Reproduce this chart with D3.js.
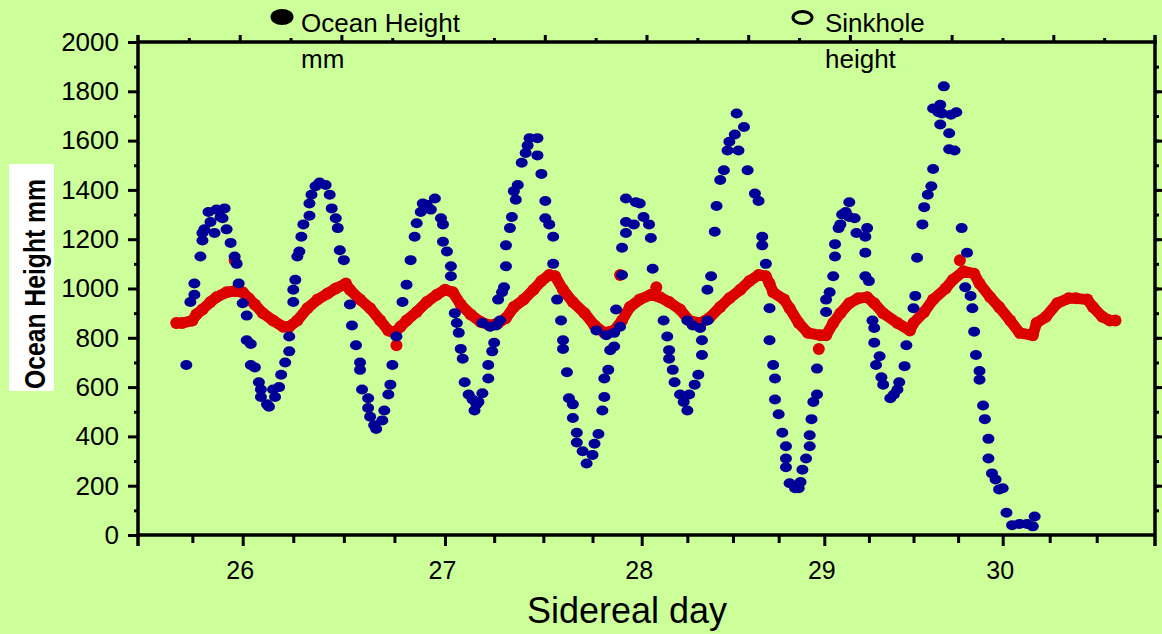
<!DOCTYPE html>
<html>
<head>
<meta charset="utf-8">
<script src="https://cdn.jsdelivr.net/npm/d3@7"></script>
<style>
  html, body { margin: 0; padding: 0; background: #ccff99; }
  svg { display: block; }
  text { font-family: "Liberation Sans", Arial, sans-serif; fill: #000; }
</style>
</head>
<body>
<div id="chart"></div>
<script>
// ocean height (blue dots)
var oceanDay = [25.72,25.74,25.76,25.76,25.79,25.80,25.80,25.81,25.83,25.84,25.86,25.87,25.89,25.90,25.91,25.92,25.94,25.96,25.97,25.98,
  26.00,26.02,26.02,26.04,26.04,26.06,26.08,26.09,26.09,26.12,26.13,26.15,26.16,26.18,26.19,26.21,26.23,26.23,26.25,26.25,
  26.26,26.27,26.28,26.29,26.30,26.33,26.33,26.34,26.36,26.38,26.41,26.43,26.44,26.46,26.47,26.48,26.50,26.53,26.54,26.56,
  26.58,26.58,26.59,26.62,26.62,26.63,26.65,26.66,26.69,26.70,26.72,26.73,26.74,26.76,26.79,26.81,26.83,26.85,26.86,26.88,
  26.89,26.91,26.93,26.95,26.98,26.99,26.99,27.01,27.03,27.03,27.05,27.06,27.07,27.08,27.09,27.10,27.12,27.14,27.15,27.16,
  27.17,27.19,27.19,27.22,27.22,27.23,27.24,27.25,27.26,27.27,27.28,27.29,27.30,27.31,27.31,27.33,27.34,27.35,27.36,27.37,
  27.39,27.41,27.42,27.43,27.47,27.47,27.49,27.51,27.51,27.53,27.55,27.55,27.57,27.59,27.60,27.60,27.62,27.63,27.65,27.65,
  27.67,27.67,27.70,27.72,27.75,27.76,27.77,27.78,27.80,27.81,27.81,27.82,27.83,27.84,27.86,27.86,27.87,27.89,27.90,27.90,
  27.92,27.92,27.92,27.96,27.97,27.99,28.01,28.04,28.05,28.06,28.12,28.14,28.15,28.15,28.17,28.18,28.21,28.23,28.25,28.25,
  28.26,28.28,28.29,28.31,28.32,28.33,28.33,28.36,28.36,28.38,28.40,28.41,28.43,28.45,28.47,28.48,28.51,28.52,28.53,28.56,
  28.58,28.62,28.64,28.66,28.66,28.68,28.70,28.70,28.72,28.73,28.73,28.75,28.77,28.79,28.79,28.79,28.81,28.84,28.86,28.87,
  28.88,28.90,28.92,28.92,28.93,28.94,28.96,28.96,29.01,29.01,29.03,29.05,29.06,29.06,29.08,29.09,29.10,29.12,29.14,29.14,
  29.17,29.18,29.23,29.23,29.23,29.24,29.25,29.27,29.28,29.28,29.29,29.31,29.32,29.33,29.37,29.39,29.41,29.42,29.45,29.46,
  29.50,29.51,29.52,29.55,29.56,29.58,29.60,29.61,29.61,29.64,29.65,29.65,29.66,29.67,29.70,29.70,29.71,29.73,29.74,29.77,
  29.79,29.80,29.82,29.83,29.84,29.85,29.87,29.87,29.89,29.90,29.92,29.92,29.94,29.96,29.98,30.00,30.02,30.05,30.09,30.13,
  30.16,30.17];
var oceanMm = [690,945,975,1020,1130,1225,1195,1240,1310,1270,1225,1320,1290,1285,1325,1240,1185,1130,1100,1020,
  940,890,790,775,690,680,620,590,560,530,520,590,560,600,650,700,745,805,945,995,
  1035,1130,1150,1210,1260,1295,1345,1380,1415,1430,1420,1380,1325,1285,1245,1155,1115,935,850,770,
  700,670,590,555,515,480,445,430,465,505,570,610,690,805,945,1015,1115,1210,1265,1310,
  1345,1340,1320,1365,1285,1260,1190,1150,1090,1050,900,860,820,755,715,620,570,550,505,530,
  540,575,860,635,690,845,745,780,850,955,870,985,1005,1090,1175,1245,1290,1395,1360,1420,
  1510,1550,1580,1610,1610,1540,1465,1355,1285,1260,1210,1100,955,870,790,755,660,555,530,475,
  415,375,340,290,325,370,830,410,505,560,635,810,670,750,765,820,915,845,1055,1165,
  1225,1270,1365,1260,1350,1345,1290,1260,1205,1080,870,805,750,715,670,620,570,540,505,870,
  570,850,610,650,840,730,790,870,995,1050,1230,1335,1440,1480,1560,1595,1625,1710,1560,1655,
  1480,1385,1355,1210,1175,1100,920,790,690,635,550,490,415,360,310,275,210,190,190,215,
  265,310,360,405,470,540,570,675,905,955,985,1050,1130,1180,1245,1260,1300,1310,1290,1350,
  1285,1225,1210,1145,1050,1245,1030,870,840,780,690,725,640,610,555,570,590,620,685,770,
  920,970,1125,1260,1330,1380,1415,1485,1730,1715,1745,1665,1710,1820,1630,1565,1705,1560,1715,1245,
  1005,1145,970,920,825,730,665,630,525,470,390,310,250,225,185,190,90,40,45,45,
  35,75];

// sinkhole height (red band)
var sinkDay = [25.67,25.70,25.75,25.77,25.80,25.84,25.87,25.92,25.96,26.00,26.03,26.06,26.10,26.15,26.20,26.23,26.27,26.32,26.37,26.42,
  26.46,26.51,26.53,26.58,26.63,26.68,26.72,26.75,26.78,26.81,26.86,26.91,26.96,27.00,27.04,27.08,27.13,27.18,27.23,27.27,
  27.31,27.35,27.40,27.45,27.49,27.53,27.56,27.60,27.65,27.71,27.76,27.81,27.86,27.90,27.94,27.99,28.05,28.10,28.15,28.21,
  28.26,28.32,28.37,28.43,28.48,28.54,28.59,28.64,28.68,28.70,28.72,28.78,28.81,28.86,28.91,28.98,29.01,29.05,29.09,29.14,
  29.19,29.24,29.28,29.33,29.41,29.48,29.50,29.56,29.61,29.68,29.72,29.78,29.84,29.87,29.93,29.98,30.04,30.09,30.16,30.18,
  30.23,30.29,30.35,30.39,30.45,30.48,30.53,30.57,30.60];
var sinkMm = [860,860,870,895,915,945,965,985,990,985,960,935,900,870,845,845,870,920,955,980,
  1000,1020,995,955,920,870,830,820,845,870,905,945,975,995,985,935,895,865,850,860,
  880,925,955,995,1030,1055,1050,995,945,900,850,820,830,870,925,955,975,965,945,915,
  870,860,880,925,960,995,1030,1055,1050,1020,985,955,920,860,820,810,810,860,900,940,
  960,965,940,900,860,830,860,905,955,1000,1035,1070,1060,1020,965,925,870,820,810,860,
  885,940,960,960,955,925,885,870,870];
// stray sinkhole readings off the band
var sinkOddDay = [25.96,26.76,27.89,28.08,28.97,29.76];
var sinkOddMm = [1115,770,1055,1005,755,1115];

var yTicks = [0,200,400,600,800,1000,1200,1400,1600,1800,2000];
var xTicks = [26,27,28,29,30];

var width = 1162, height = 634;
var padL = 138, padR = 1155, padT = 42, padB = 535;

var svg = d3.select('#chart').append('svg')
  .attr('width', width)
  .attr('height', height);

svg.append('rect').attr('width', width).attr('height', height).attr('fill', '#ccff99');

// the day axis of the original is not evenly spaced, so piece it together
var x = d3.scaleLinear()
  .domain([25.48, 26, 27, 28, 29, 30, 30.81])
  .range([padL, 242.7, 445, 641.7, 824.3, 1002.7, padR]);
var y = d3.scaleLinear().domain([0, 2000]).range([padB, padT]);
var topScale = d3.scaleLinear().domain([0, 20]).range([padL, padR]);

function styleAxis(g) {
  g.select('.domain').remove();
  g.selectAll('line').attr('stroke', '#000').attr('stroke-width', 3);
  g.selectAll('text').style('font-size', '26px').attr('fill', '#000');
}

// red band first, blue dots over it
var band = d3.line().x(function (d, i) { return x(sinkDay[i]); }).y(function (d) { return y(d); });
svg.append('path')
  .attr('d', band(sinkMm))
  .attr('fill', 'none')
  .attr('stroke', '#dd0000')
  .attr('stroke-width', 11)
  .attr('stroke-linejoin', 'round')
  .attr('stroke-linecap', 'round');
svg.append('g').selectAll('circle')
  .data(sinkMm.concat(sinkOddMm))
  .enter().append('circle')
  .attr('cx', function (d, i) { return x(sinkDay.concat(sinkOddDay)[i]); })
  .attr('cy', function (d) { return y(d); })
  .attr('r', 6)
  .attr('fill', '#dd0000');

svg.append('g').selectAll('ellipse')
  .data(oceanMm)
  .enter().append('ellipse')
  .attr('cx', function (d, i) { return x(oceanDay[i]); })
  .attr('cy', function (d) { return y(d); })
  .attr('rx', 6)
  .attr('ry', 5)
  .attr('fill', '#000099');

// left axis
svg.append('g').attr('transform', 'translate(' + padL + ',0)')
  .call(d3.axisLeft(y).tickValues(yTicks).tickSize(10).tickPadding(9).tickFormat(d3.format('d')))
  .call(styleAxis);
svg.append('g').attr('transform', 'translate(' + padL + ',0)')
  .call(d3.axisLeft(y).tickValues(d3.range(100, 2000, 200)).tickSize(4).tickFormat(''))
  .call(styleAxis);

// right axis, ticks outward
svg.append('g').attr('transform', 'translate(' + padR + ',0)')
  .call(d3.axisRight(y).tickValues(d3.range(100, 2000, 100)).tickSize(4).tickFormat(''))
  .call(styleAxis);
svg.append('g').attr('transform', 'translate(' + padR + ',0)')
  .call(d3.axisRight(y).tickValues(d3.range(200, 2000, 200)).tickSize(7).tickFormat(''))
  .call(styleAxis);

// bottom axis
svg.append('g').attr('transform', 'translate(0,' + padB + ')')
  .call(d3.axisBottom(x).tickValues(xTicks).tickSize(11).tickPadding(15).tickFormat(d3.format('d')))
  .call(styleAxis)
  .selectAll('text').attr('dx', -3).style('font-size', '25px');
svg.append('g').attr('transform', 'translate(0,' + padB + ')')
  .call(d3.axisBottom(x).tickValues([25.75,26.25,26.5,26.75,27.25,27.5,27.75,28.25,28.5,28.75,29.25,29.5,29.75,30.25,30.5]).tickSize(8).tickFormat(''))
  .call(styleAxis);

// top axis, unlabeled
svg.append('g').attr('transform', 'translate(0,' + padT + ')')
  .call(d3.axisTop(topScale).tickValues(d3.range(1, 20, 2)).tickSize(4).tickFormat(''))
  .call(styleAxis);
svg.append('g').attr('transform', 'translate(0,' + padT + ')')
  .call(d3.axisTop(topScale).tickValues(d3.range(2, 20, 2)).tickSize(7).tickFormat(''))
  .call(styleAxis);

// frame
svg.append('line').attr('x1', padL).attr('x2', padR + 2).attr('y1', padT).attr('y2', padT).attr('stroke', '#000').attr('stroke-width', 3.5);
svg.append('line').attr('x1', padL - 1).attr('x2', padR + 1).attr('y1', padB).attr('y2', padB).attr('stroke', '#000').attr('stroke-width', 3.5);
svg.append('line').attr('x1', padL).attr('x2', padL).attr('y1', padT - 7).attr('y2', padB + 11).attr('stroke', '#000').attr('stroke-width', 3.5);
svg.append('line').attr('x1', padR).attr('x2', padR).attr('y1', padT - 7).attr('y2', padB + 11).attr('stroke', '#000').attr('stroke-width', 3.5);

// axis titles
svg.append('text')
  .attr('x', 627).attr('y', 623)
  .attr('text-anchor', 'middle')
  .style('font-size', '36px')
  .text('Sidereal day');

svg.append('rect').attr('x', 9).attr('y', 164).attr('width', 45).attr('height', 227).attr('fill', '#fff');
svg.append('text')
  .attr('transform', 'translate(45,284) rotate(-90)')
  .attr('text-anchor', 'middle')
  .attr('textLength', 210)
  .attr('lengthAdjust', 'spacingAndGlyphs')
  .style('font-size', '29px')
  .style('font-weight', 'bold')
  .text('Ocean Height mm');

// legend
svg.append('ellipse').attr('cx', 282).attr('cy', 17).attr('rx', 11.5).attr('ry', 8).attr('fill', '#000');
svg.append('text').attr('x', 301).attr('y', 32).style('font-size', '26px').text('Ocean Height');
svg.append('text').attr('x', 301).attr('y', 68).style('font-size', '26px').text('mm');
svg.append('ellipse').attr('cx', 802.5).attr('cy', 17.5).attr('rx', 9.5).attr('ry', 6).attr('fill', 'none').attr('stroke', '#000').attr('stroke-width', 3);
svg.append('text').attr('x', 825).attr('y', 32).style('font-size', '26px').text('Sinkhole');
svg.append('text').attr('x', 825).attr('y', 68).style('font-size', '26px').text('height');
</script>
</body>
</html>
